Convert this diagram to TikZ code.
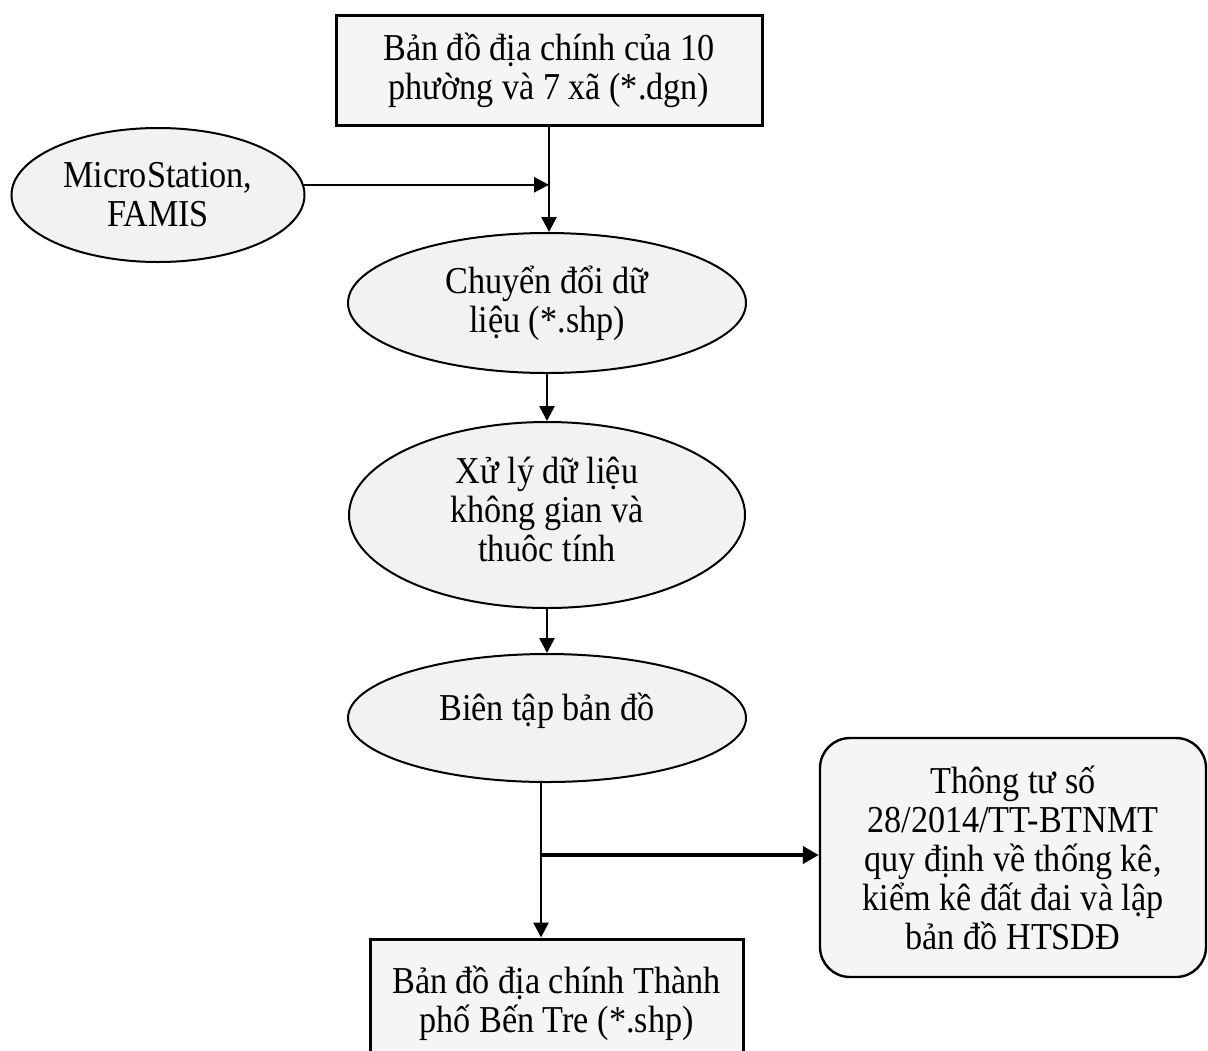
\documentclass[tikz,border=0pt]{standalone}
\usepackage{fontspec}
\setmainfont{Liberation Serif}[FakeStretch=0.9]
\usetikzlibrary{shapes.geometric,arrows.meta}

\begin{document}
\begin{tikzpicture}[x=0.5pt,y=-0.5pt,
	txt/.style={font=\fontsize{19}{19.5}\selectfont,align=center,inner sep=0pt},
	databox/.style={txt,draw,line width=1.5pt,fill=black!4},
	procell/.style={txt,ellipse,draw,line width=1pt,fill=black!5},
	rulebox/.style={txt,draw,line width=1.2pt,rounded corners=15pt,fill=black!4},
	arr/.style={-{Triangle[length=7.5pt,width=7.5pt]},line width=1.3pt},
	arrthick/.style={-{Triangle[length=8pt,width=8.5pt]},line width=2.2pt}]
	
	\useasboundingbox (0,0) rectangle (1208,1050);
	
	% input map
	\node[databox,minimum width=213pt,minimum height=55pt] (input) at (549,70)
		{Bản đồ địa chính của 10\\phường và 7 xã (*.dgn)};
	
	% software
	\node[procell,minimum width=146.5pt,minimum height=67pt] (micro) at (158,195)
		{MicroStation,\\FAMIS};
	
	% processing steps
	\node[procell,minimum width=199pt,minimum height=70pt] (convert) at (547,303)
		{Chuyển đổi dữ\\liệu (*.shp)};
	\node[procell,minimum width=198pt,minimum height=93pt] (process) at (547,515)
		{\raisebox{-4pt}{\begin{tabular}{@{}c@{}}Xử lý dữ liệu\\không gian và\\thuôc tính\end{tabular}}};
	\node[procell,minimum width=199pt,minimum height=64pt] (edit) at (547,718)
		{\raisebox{11pt}{Biên tập bản đồ}};
	
	% regulation
	\node[rulebox,minimum width=193pt,minimum height=119.5pt] (circular) at (1013,857.5)
		{Thông tư số\\28/2014/TT-BTNMT\\quy định về thống kê,\\kiểm kê đất đai và lập\\bản đồ HTSDĐ};
	
	% output map
	\node[databox,minimum width=186.5pt,minimum height=64pt] (output) at (556.5,1003)
		{Bản đồ địa chính Thành\\phố Bến Tre (*.shp)};
	
	% connection lines
	\coordinate (split) at (541,855);
	\draw[arr] (input.south) -- (input.south |- convert.north);
	\draw[arr] (micro.4) -- (micro.4 -| input.south);
	\draw[arr] (convert.south) -- (process.north);
	\draw[arr] (process.south) -- (edit.north);
	\draw[arr] (edit.south -| split) -- (output.north -| split);
	\draw[arrthick] (split) -- (split -| circular.west);
	
\end{tikzpicture}
\end{document}
